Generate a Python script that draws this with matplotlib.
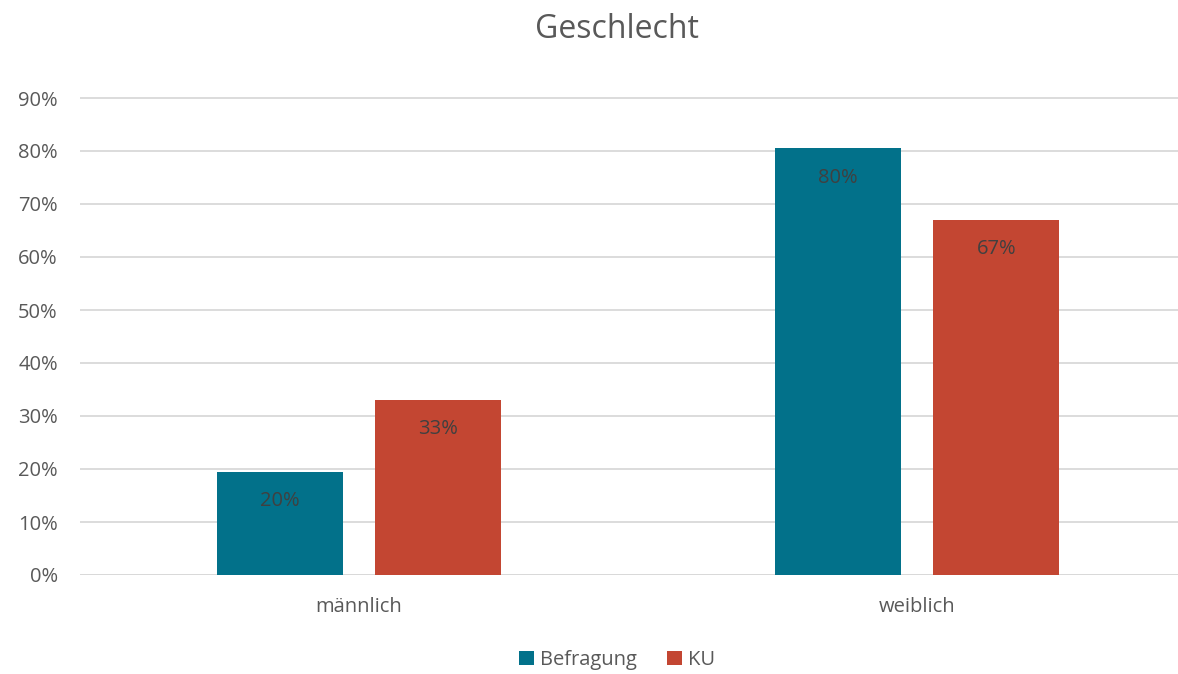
import matplotlib.pyplot as plt
import matplotlib as mpl
import numpy as np

mpl.rcParams['font.family'] = ['Open Sans', 'DejaVu Sans']

categories = ['männlich', 'weiblich']
befragung = [0.195, 0.805]
ku = [0.33, 0.67]
labels_befragung = ['20%', '80%']
labels_ku = ['33%', '67%']

c_teal = '#02718A'
c_red = '#C34632'
c_text = '#595959'

fig = plt.figure(figsize=(11.78, 6.74), dpi=100)
# axes runs a bit past the right edge, like the clipped Excel export
ax = fig.add_axes([80 / 1178, 1 - 575 / 674, 1116 / 1178, (575 - 98) / 674 * 10 / 9])

x = np.arange(len(categories))
w = 0.226
off = 0.142
b1 = ax.bar(x - off, befragung, w, color=c_teal, label='Befragung', zorder=2)
b2 = ax.bar(x + off, ku, w, color=c_red, label='KU', zorder=2)

for bars, labs in ((b1, labels_befragung), (b2, labels_ku)):
    for rect, lab in zip(bars, labs):
        ax.annotate(lab, (rect.get_x() + rect.get_width() / 2, rect.get_height()),
                    xytext=(0, -21), textcoords='offset points',
                    ha='center', va='center', fontsize=14.5, color='#404040')

ax.set_xlim(-0.5, 1.5)
ax.set_ylim(0, 1.0)
ax.set_yticks(np.arange(0, 1.0, 0.1))
ax.set_yticklabels([f'{int(round(v * 100))}%' for v in np.arange(0, 1.0, 0.1)])
ax.set_xticks(x)
ax.set_xticklabels(categories)
ax.tick_params(axis='both', length=0, labelsize=14.5, labelcolor=c_text)
ax.tick_params(axis='y', pad=16)
ax.tick_params(axis='x', pad=16)
ax.yaxis.grid(True, color='#D9D9D9', linewidth=1.3, zorder=0)
ax.set_axisbelow(True)
for s in ax.spines.values():
    s.set_visible(False)
ax.axhline(0, color='#D9D9D9', linewidth=1.3, zorder=1)

fig.text(617 / 1178, 1 - 29 / 674, 'Geschlecht', ha='center', va='center',
         fontsize=23, color=c_text)

fig.legend(loc='center', bbox_to_anchor=(617 / 1178, 1 - 660 / 674), ncol=2,
           frameon=False, fontsize=14.5, labelcolor=c_text,
           handlelength=0.75, handleheight=0.75, handletextpad=0.3, columnspacing=1.5)

plt.savefig('out.png', dpi=100)
